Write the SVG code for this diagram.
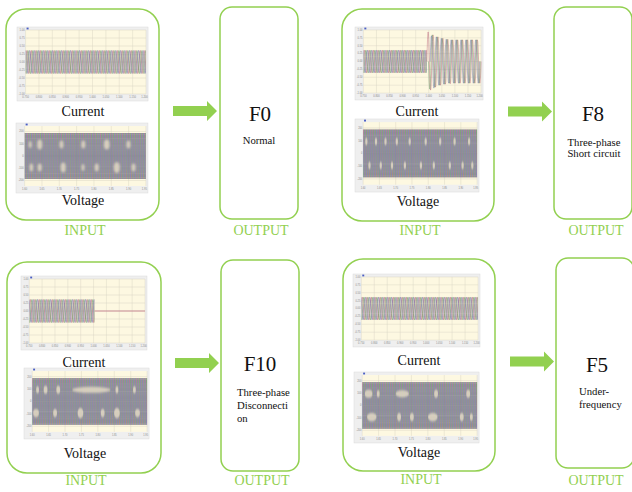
<svg xmlns="http://www.w3.org/2000/svg" width="632" height="492" viewBox="0 0 632 492">
<style>
.box{fill:#fff;stroke:#92d050;stroke-width:1.5}
.t{font-family:"Liberation Serif","Times New Roman",serif;fill:#111}
.cap{font-size:14px;text-anchor:middle}
.io{font-size:14px;text-anchor:middle;fill:#92d050}
.code{font-size:21px;text-anchor:middle}
.desc{font-size:10.7px}
.mid{text-anchor:middle}
.arrow{fill:#92d050}
.frame{fill:#efefef;stroke:#dadada;stroke-width:.5}
.plot{fill:#fdf8e1}
.grid{stroke:#d9d4c3;stroke-width:.45;fill:none}
.tick{font-family:"Liberation Sans",Arial,sans-serif;font-size:2.6px;fill:#8a8a8a}
.ty{text-anchor:end}
.tx{text-anchor:middle}
.w{fill:none;stroke-width:.55}
.pa{stroke:#b65a72}
.pb{stroke:#5e985f}
.pc{stroke:#6b6aae}
.blob{fill:#f3e8cc;opacity:.7;filter:url(#soft)}
.pf{fill:none;stroke-width:.5;opacity:.85}
</style>
<defs>
<filter id="soft" x="-50%" y="-50%" width="200%" height="200%"><feGaussianBlur stdDeviation="0.8"/></filter>
<pattern id="curWave" patternUnits="userSpaceOnUse" x="8.5" y="0" width="4.5" height="74">
<path class="w pa" d="M-4.5,35 Q-3.375,12 -2.25,35 T0,35 T2.25,35 T4.5,35 T6.75,35 T9,35"/>
<path class="w pb" d="M-3,35 Q-1.875,12 -0.75,35 T1.5,35 T3.75,35 T6,35 T8.25,35"/>
<path class="w pc" d="M-1.5,35 Q-0.375,12 0.75,35 T3,35 T5.25,35 T7.5,35 T9.75,35"/>
</pattern>
<pattern id="volWave" patternUnits="userSpaceOnUse" x="8.5" y="0" width="2.4" height="70">
<path class="w pa" d="M-2.4,33 Q-1.8,-13 -1.2,33 T0,33 T1.2,33 T2.4,33 T3.6,33 T4.8,33"/>
<path class="w pb" d="M-1.6,33 Q-1,-13 -0.4,33 T0.8,33 T2,33 T3.2,33 T4.4,33"/>
<path class="w pc" d="M-0.8,33 Q-0.2,-13 0.4,33 T1.6,33 T2.8,33 T4,33"/>
</pattern>
<path id="arr" class="arrow" d="M0,-5H34V-10L44,0L34,10V5H0Z"/>
<g id="curBg">
<rect class="frame" x="0" y="0" width="130" height="74"/>
<rect class="plot" x="8.5" y="3" width="119.5" height="64"/>
<path class="grid" d="M8.5,3H128M8.5,11H128M8.5,19H128M8.5,27H128M8.5,35H128M8.5,43H128M8.5,51H128M8.5,59H128M8.5,67H128M8.5,3V67M21.78,3V67M35.06,3V67M48.33,3V67M61.61,3V67M74.89,3V67M88.17,3V67M101.44,3V67M114.72,3V67M128,3V67"/>
<rect x="9.5" y="0.6" width="2" height="1.8" fill="#4a5ec4"/>
<text class="tick ty" x="7.6" y="3.9">1.00</text>
<text class="tick ty" x="7.6" y="11.9">0.75</text>
<text class="tick ty" x="7.6" y="19.9">0.50</text>
<text class="tick ty" x="7.6" y="27.9">0.25</text>
<text class="tick ty" x="7.6" y="35.9">0.00</text>
<text class="tick ty" x="7.6" y="43.9">-0.25</text>
<text class="tick ty" x="7.6" y="51.9">-0.50</text>
<text class="tick ty" x="7.6" y="59.9">-0.75</text>
<text class="tick ty" x="7.6" y="67.9">-1.00</text>
<text class="tick tx" x="8.5" y="71.3">0.750</text>
<text class="tick tx" x="21.78" y="71.3">0.800</text>
<text class="tick tx" x="35.06" y="71.3">0.850</text>
<text class="tick tx" x="48.33" y="71.3">0.900</text>
<text class="tick tx" x="61.61" y="71.3">0.950</text>
<text class="tick tx" x="74.89" y="71.3">1.000</text>
<text class="tick tx" x="88.17" y="71.3">1.050</text>
<text class="tick tx" x="101.44" y="71.3">1.100</text>
<text class="tick tx" x="114.72" y="71.3">1.150</text>
<text class="tick tx" x="126.5" y="71.3">1.200</text>
</g>
<g id="volBg">
<rect class="frame" x="0" y="0" width="130" height="70"/>
<rect class="plot" x="8.5" y="3" width="119.5" height="60"/>
<path class="grid" d="M8.5,8.5H128M8.5,20.75H128M8.5,33H128M8.5,45.25H128M8.5,57.5H128M8.5,3V63M25.57,3V63M42.64,3V63M59.71,3V63M76.79,3V63M93.86,3V63M110.93,3V63M128,3V63"/>
<rect x="9.5" y="0.6" width="2" height="1.8" fill="#4a5ec4"/>
<text class="tick ty" x="7.6" y="9.4">200</text>
<text class="tick ty" x="7.6" y="21.6">100</text>
<text class="tick ty" x="7.6" y="33.9">0</text>
<text class="tick ty" x="7.6" y="46.1">-100</text>
<text class="tick ty" x="7.6" y="58.4">-200</text>
<text class="tick tx" x="8.5" y="67.3">1.60</text>
<text class="tick tx" x="25.57" y="67.3">1.65</text>
<text class="tick tx" x="42.64" y="67.3">1.70</text>
<text class="tick tx" x="59.71" y="67.3">1.75</text>
<text class="tick tx" x="76.79" y="67.3">1.80</text>
<text class="tick tx" x="93.86" y="67.3">1.85</text>
<text class="tick tx" x="110.93" y="67.3">1.90</text>
<text class="tick tx" x="126.5" y="67.3">1.95</text>
</g>
</defs>

<g id="input-f0">
<rect class="box" x="6" y="9" width="153" height="211" rx="20"/>
<g transform="translate(17,27) scale(1.008,1)">
<use href="#curBg"/>
<rect x="8.5" y="22.5" width="119.5" height="25" fill="url(#curWave)"/>
</g>
<text class="t cap" x="83" y="115.5">Current</text>
<g transform="translate(16,123) scale(1.015,1)">
<use href="#volBg"/>
<rect x="8.5" y="9" width="119.5" height="48" fill="url(#volWave)"/>
<ellipse class="blob" cx="14" cy="21.5" rx="1.5" ry="3.5"/>
<ellipse class="blob" cx="23.4" cy="21.5" rx="2.5" ry="5"/>
<ellipse class="blob" cx="44.8" cy="21.5" rx="2" ry="4"/>
<ellipse class="blob" cx="66.3" cy="21.5" rx="2" ry="4"/>
<ellipse class="blob" cx="89.4" cy="21.5" rx="2.8" ry="5"/>
<ellipse class="blob" cx="110.8" cy="21.5" rx="2" ry="4"/>
<ellipse class="blob" cx="15.1" cy="44.5" rx="1.8" ry="4"/>
<ellipse class="blob" cx="23.4" cy="44.5" rx="2" ry="4"/>
<ellipse class="blob" cx="46.5" cy="44.5" rx="2.5" ry="5"/>
<ellipse class="blob" cx="66" cy="44.5" rx="1.5" ry="3.5"/>
<ellipse class="blob" cx="79.5" cy="44.5" rx="2" ry="4"/>
<ellipse class="blob" cx="99.3" cy="44.5" rx="3" ry="5.5"/>
<ellipse class="blob" cx="115.8" cy="44.5" rx="2" ry="4"/>
</g>
<text class="t cap" x="83" y="205">Voltage</text>
<text class="t io" x="85" y="235">INPUT</text>
</g>

<g id="output-f0">
<rect class="box" x="220" y="7" width="78" height="212" rx="12"/>
<text class="t code" x="260" y="121">F0</text>
<text class="t desc mid" x="259" y="144">Normal</text>
<text class="t io" x="261" y="235">OUTPUT</text>
</g>

<g id="input-f8">
<rect class="box" x="342" y="9" width="152" height="212" rx="20"/>
<g transform="translate(355,27) scale(0.985,0.986)">
<use href="#curBg"/>
<rect x="8.5" y="22.5" width="64.5" height="25" fill="url(#curWave)"/>
<path class="pf pa" d="M73,35 Q74.25,-25 75.5,35 Q76.75,93 78,35 Q79.25,-19 80.5,35 Q81.75,87 83,35 Q84.25,-15 85.5,35 Q86.75,83 88,35 Q89.25,-12 90.5,35 Q91.75,81 93,35 Q94.25,-10 95.5,35 Q96.75,80 98,35 Q99.25,-9 100.5,35 Q101.75,79 103,35 t2.5,0 t2.5,0 t2.5,0 t2.5,0 t2.5,0 t2.5,0 t2.5,0 t2.5,0 t2.5,0 t2.5,0"/>
<path class="pf pb" d="M74.67,35 Q75.92,91 77.17,35 Q78.42,-19 79.67,35 Q80.92,87 82.17,35 Q83.42,-15 84.67,35 Q85.92,83 87.17,35 Q88.42,-12 89.67,35 Q90.92,81 92.17,35 Q93.42,-10 94.67,35 Q95.92,79 97.17,35 Q98.42,-9 99.67,35 t2.5,0 t2.5,0 t2.5,0 t2.5,0 t2.5,0 t2.5,0 t2.5,0 t2.5,0 t2.5,0 t2.5,0 t2.5,0"/>
<path class="pf pc" d="M76.33,35 Q77.58,-17 78.83,35 Q80.08,89 81.33,35 Q82.58,-15 83.83,35 Q85.08,83 86.33,35 Q87.58,-12 88.83,35 Q90.08,81 91.33,35 Q92.58,-10 93.83,35 Q95.08,79 96.33,35 t2.5,0 t2.5,0 t2.5,0 t2.5,0 t2.5,0 t2.5,0 t2.5,0 t2.5,0 t2.5,0 t2.5,0 t2.5,0 t2.5,0"/>
</g>
<text class="t cap" x="417" y="115.5">Current</text>
<g transform="translate(355,119) scale(0.954,1.043)">
<use href="#volBg"/>
<rect x="8.5" y="9" width="119.5" height="48" fill="url(#volWave)"/>
<ellipse class="blob" cx="11.9" cy="21.5" rx="1.2" ry="3.5"/>
<ellipse class="blob" cx="22" cy="21.5" rx="1.2" ry="3.5"/>
<ellipse class="blob" cx="32" cy="21.5" rx="1.2" ry="3.5"/>
<ellipse class="blob" cx="43.8" cy="21.5" rx="1.2" ry="3.5"/>
<ellipse class="blob" cx="57.3" cy="21.5" rx="1.2" ry="3.5"/>
<ellipse class="blob" cx="74.1" cy="21.5" rx="1.2" ry="3.5"/>
<ellipse class="blob" cx="89.3" cy="21.5" rx="1.2" ry="3.5"/>
<ellipse class="blob" cx="104.4" cy="21.5" rx="1.2" ry="3.5"/>
<ellipse class="blob" cx="119.6" cy="21.5" rx="1.2" ry="3.5"/>
<ellipse class="blob" cx="15.2" cy="44.5" rx="1.2" ry="3.5"/>
<ellipse class="blob" cx="27" cy="44.5" rx="1.2" ry="3.5"/>
<ellipse class="blob" cx="38.8" cy="44.5" rx="1.2" ry="3.5"/>
<ellipse class="blob" cx="52.3" cy="44.5" rx="1.2" ry="3.5"/>
<ellipse class="blob" cx="69.1" cy="44.5" rx="1.2" ry="3.5"/>
<ellipse class="blob" cx="82.6" cy="44.5" rx="1.2" ry="3.5"/>
<ellipse class="blob" cx="99.4" cy="44.5" rx="1.2" ry="3.5"/>
<ellipse class="blob" cx="112.8" cy="44.5" rx="1.2" ry="3.5"/>
<ellipse class="blob" cx="123" cy="44.5" rx="1.2" ry="3.5"/>
</g>
<text class="t cap" x="418" y="205.5">Voltage</text>
<text class="t io" x="420" y="235">INPUT</text>
</g>

<g id="output-f8">
<rect class="box" x="554" y="7" width="78" height="212" rx="12"/>
<text class="t code" x="593" y="121">F8</text>
<text class="t desc mid" x="594" y="145.5">Three-phase</text>
<text class="t desc mid" x="594" y="157">Short circuit</text>
<text class="t io" x="596" y="235">OUTPUT</text>
</g>

<g id="input-f10">
<rect class="box" x="7" y="262" width="154" height="211" rx="20"/>
<g transform="translate(21,276) scale(0.969,1)">
<use href="#curBg"/>
<rect x="8.5" y="22.5" width="67.5" height="25" fill="url(#curWave)"/>
<path d="M76,35H128" stroke="#c07484" stroke-width=".8" fill="none"/>
</g>
<text class="t cap" x="84" y="367">Current</text>
<g transform="translate(24,368) scale(0.962,1.014)">
<use href="#volBg"/>
<rect x="8.5" y="9" width="119.5" height="48" fill="url(#volWave)"/>
<ellipse class="blob" cx="70" cy="21.5" rx="20" ry="3" opacity=".5"/>
<ellipse class="blob" cx="14.1" cy="21.5" rx="1.5" ry="3.5"/>
<ellipse class="blob" cx="22.4" cy="21.5" rx="2" ry="4"/>
<ellipse class="blob" cx="35.6" cy="21.5" rx="2" ry="4"/>
<ellipse class="blob" cx="96.6" cy="21.5" rx="1.5" ry="3.5"/>
<ellipse class="blob" cx="114.8" cy="21.5" rx="1.5" ry="3.5"/>
<ellipse class="blob" cx="12.5" cy="44.5" rx="3" ry="4"/>
<ellipse class="blob" cx="32.3" cy="44.5" rx="2" ry="4"/>
<ellipse class="blob" cx="58.7" cy="44.5" rx="3" ry="5"/>
<ellipse class="blob" cx="81.8" cy="44.5" rx="2" ry="4"/>
<ellipse class="blob" cx="96.6" cy="44.5" rx="3" ry="5"/>
<ellipse class="blob" cx="118" cy="44.5" rx="2.5" ry="4"/>
</g>
<text class="t cap" x="85" y="458">Voltage</text>
<text class="t io" x="86" y="485">INPUT</text>
</g>

<g id="output-f10">
<rect class="box" x="221" y="260" width="78" height="211" rx="12"/>
<text class="t code" x="260" y="371">F10</text>
<text class="t desc" x="237" y="396">Three-phase</text>
<text class="t desc" x="237" y="409">Disconnecti</text>
<text class="t desc" x="237" y="421.5">on</text>
<text class="t io" x="262" y="485">OUTPUT</text>
</g>

<g id="input-f5">
<rect class="box" x="343" y="259" width="152" height="212" rx="20"/>
<g transform="translate(353,274) scale(0.977,0.986)">
<use href="#curBg"/>
<rect x="8.5" y="22.5" width="119.5" height="25" fill="url(#curWave)"/>
</g>
<text class="t cap" x="419" y="365">Current</text>
<g transform="translate(354,372) scale(0.962,1.014)">
<use href="#volBg"/>
<rect x="8.5" y="9" width="119.5" height="48" fill="url(#volWave)"/>
<ellipse class="blob" cx="15.2" cy="21.5" rx="4" ry="4"/>
<ellipse class="blob" cx="25.2" cy="21.5" rx="1.5" ry="3.5"/>
<ellipse class="blob" cx="50.2" cy="21.5" rx="7" ry="3.5"/>
<ellipse class="blob" cx="85.3" cy="21.5" rx="2" ry="4"/>
<ellipse class="blob" cx="118.7" cy="21.5" rx="2" ry="4"/>
<ellipse class="blob" cx="18.5" cy="44.5" rx="5" ry="4"/>
<ellipse class="blob" cx="46.9" cy="44.5" rx="2" ry="4"/>
<ellipse class="blob" cx="60.2" cy="44.5" rx="2" ry="4"/>
<ellipse class="blob" cx="81.9" cy="44.5" rx="5" ry="4"/>
<ellipse class="blob" cx="112" cy="44.5" rx="2" ry="4"/>
<ellipse class="blob" cx="122" cy="44.5" rx="1.5" ry="3.5"/>
</g>
<text class="t cap" x="419" y="457">Voltage</text>
<text class="t io" x="421" y="484">INPUT</text>
</g>

<g id="output-f5">
<rect class="box" x="556" y="258" width="78" height="210" rx="12"/>
<text class="t code" x="597" y="372">F5</text>
<text class="t desc" x="579" y="395">Under-</text>
<text class="t desc" x="579" y="407.5">frequency</text>
<text class="t io" x="596" y="485">OUTPUT</text>
</g>

<g id="connectors">
<use href="#arr" transform="translate(173,111)"/>
<use href="#arr" transform="translate(508,111.5)"/>
<use href="#arr" transform="translate(175,363)"/>
<use href="#arr" transform="translate(510,361.5)"/>
</g>
</svg>
